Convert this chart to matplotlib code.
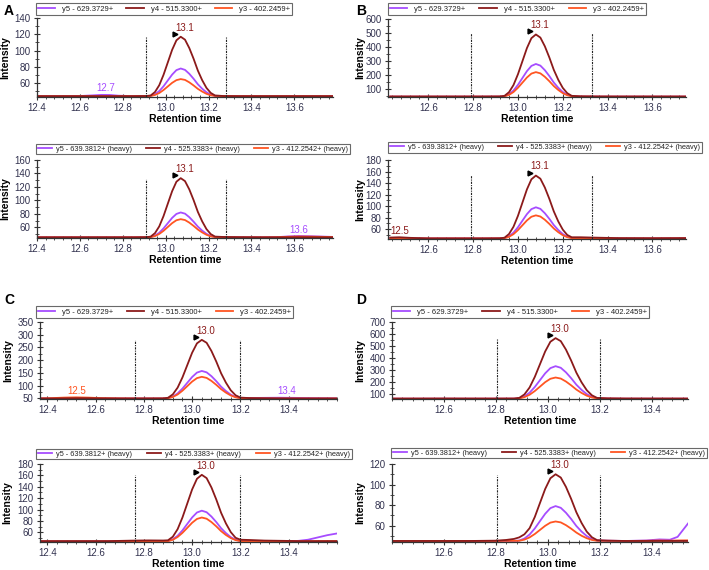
import matplotlib
matplotlib.use('Agg')
import matplotlib.pyplot as plt
from matplotlib.ticker import MultipleLocator
import matplotlib.transforms as mtransforms

plt.rcParams['font.family'] = ['Liberation Sans', 'DejaVu Sans']

# ---------------- data ----------------
labels_light = ['y5 - 629.3729+', 'y4 - 515.3300+', 'y3 - 402.2459+']
labels_heavy = ['y5 - 639.3812+ (heavy)', 'y4 - 525.3383+ (heavy)', 'y3 - 412.2542+ (heavy)']

# Panel A, light
t_A1 = [12.40, 12.50, 12.60, 12.66, 12.70, 12.74, 12.78, 12.85, 12.91,
        12.93, 12.95, 12.97, 12.99, 13.01, 13.03, 13.05, 13.07, 13.09, 13.11, 13.13, 13.15, 13.17, 13.19, 13.21, 13.23,
        13.27, 13.35, 13.50, 13.65, 13.78]
y5_A1 = [44, 44, 44.2, 45, 45.6, 45.5, 44.6, 44.1, 44.1,
         44.4, 46.4, 50.3, 56.2, 63.4, 70.5, 76.0, 78, 76.3, 71.5, 65.4, 58.6, 53.2, 48.8, 45.9, 44.4,
         44, 44, 44, 44, 44]
y4_A1 = [44, 44, 44, 44, 44, 44, 44, 44, 44.2,
         44.9, 49.1, 57.5, 70.3, 85.6, 100.9, 112.6, 117, 113.4, 103.1, 90.0, 75.4, 63.7, 54.2, 48.0, 44.9,
         44.2, 44, 44, 44, 44]
y3_A1 = [44, 44, 44, 44, 44, 44, 44, 44, 44.1,
         44.3, 45.5, 47.9, 51.6, 56.0, 60.4, 63.7, 65, 64.0, 61.0, 57.2, 53.0, 49.7, 46.9, 45.2, 44.3,
         44.1, 44, 44, 44, 44]

# Panel A, heavy
t_A2 = [12.40, 12.50, 12.60, 12.70, 12.80, 12.85, 12.91,
        12.93, 12.95, 12.97, 12.99, 13.01, 13.03, 13.05, 13.07, 13.09, 13.11, 13.13, 13.15, 13.17, 13.19, 13.21, 13.23,
        13.27, 13.35, 13.45, 13.52, 13.57, 13.62, 13.68, 13.78]
y5_A2 = [45, 45, 45, 45, 45, 45, 45.1,
         45.4, 47.6, 51.8, 58.3, 66.1, 73.9, 79.8, 82, 80.2, 75.0, 68.3, 60.9, 55.0, 50.2, 47.0, 45.4,
         45.1, 45, 45, 45.3, 46.3, 47, 46.6, 45.6]
y4_A2 = [45, 45, 45, 45, 45, 45, 45.2,
         46.1, 51.2, 61.3, 76.7, 95.2, 113.6, 127.7, 133, 128.6, 116.3, 100.4, 82.8, 68.8, 57.3, 49.8, 46.1,
         45.5, 45.2, 45, 45, 45, 45.1, 45.1, 45]
y3_A2 = [45, 45, 45, 45, 45, 45, 45.1,
         45.3, 46.9, 50.0, 54.7, 60.4, 66.1, 70.4, 72, 70.7, 66.9, 62.0, 56.6, 52.3, 48.8, 46.5, 45.3,
         45.2, 45, 45, 45.2, 45.8, 46.2, 46.0, 45.4]

# Panel B, light
t_B1 = [12.43, 12.55, 12.65, 12.75, 12.85, 12.92,
        12.94, 12.96, 12.98, 13.00, 13.02, 13.04, 13.06, 13.08, 13.10, 13.12, 13.14, 13.16, 13.18, 13.20, 13.22, 13.24,
        13.28, 13.35, 13.45, 13.60, 13.75]
y5_B1 = [48, 48, 48, 48, 48, 48.3,
         50.8, 64.2, 90.9, 131.5, 180.2, 229.0, 266.1, 280, 268.4, 235.9, 194.2, 147.8, 110.6, 80.5, 60.8, 50.8,
         48.5, 48, 48, 48, 48]
y4_B1 = [48, 48, 48, 48, 48, 48.5,
         53.3, 78.9, 129.8, 207.1, 299.9, 392.8, 463.5, 490, 467.9, 406.0, 326.5, 238.1, 167.3, 109.9, 72.3, 53.3,
         49.5, 48.5, 48, 48, 48]
y3_B1 = [48, 48, 48, 48, 48, 48.3,
         50.1, 60.2, 80.2, 110.6, 147.2, 183.7, 211.6, 222, 213.3, 188.9, 157.6, 122.8, 95.0, 72.4, 57.6, 50.1,
         48.5, 48, 48, 48, 48]

# Panel B, heavy
t_B2 = [12.43, 12.47, 12.52, 12.60, 12.75, 12.85, 12.92,
        12.94, 12.96, 12.98, 13.00, 13.02, 13.04, 13.06, 13.08, 13.10, 13.12, 13.14, 13.16, 13.18, 13.20, 13.22, 13.24,
        13.28, 13.33, 13.45, 13.60, 13.75]
y5_B2 = [44, 44, 44, 44, 44, 44, 44.1,
         44.6, 47.8, 54.0, 63.4, 74.8, 86.1, 94.8, 98, 95.3, 87.7, 78.0, 67.2, 58.6, 51.6, 47.0, 44.6,
         44.2, 44, 44, 44, 44.3]
y4_B2 = [45.5, 46, 45, 44, 44, 44, 44.2,
         45.3, 51.6, 64.2, 83.2, 106.1, 129.0, 146.5, 153, 147.6, 132.3, 112.7, 90.9, 73.4, 59.3, 50.0, 46.0,
         46, 45.5, 44.5, 44.3, 44.5]
y3_B2 = [44, 44, 44, 44, 44, 44, 44.1,
         44.5, 46.8, 51.4, 58.4, 66.8, 75.2, 81.6, 84, 82.0, 76.4, 69.2, 61.2, 54.8, 49.6, 46.2, 44.5,
         44.3, 44.2, 44, 44, 44.2]

# Panel C, light
t_C1 = [12.37, 12.42, 12.47, 12.52, 12.57, 12.62, 12.70, 12.80, 12.88,
        12.90, 12.92, 12.94, 12.96, 12.98, 13.00, 13.02, 13.04, 13.06, 13.08, 13.10, 13.12, 13.14, 13.16, 13.18, 13.20,
        13.24, 13.30, 13.36, 13.42, 13.50, 13.60]
y5_C1 = [50, 50, 50, 50, 50, 50, 50, 50, 50.1,
         51.3, 57.6, 70.0, 88.9, 111.6, 134.2, 151.5, 158, 152.6, 137.5, 118.0, 96.4, 79.2, 65.1, 55.9, 52.0,
         52, 52.5, 53, 52.5, 51.5, 50.5]
y4_C1 = [50, 50, 50.5, 51, 51, 50.5, 50, 50, 50.2,
         52.8, 66.1, 92.6, 132.8, 181.1, 229.4, 266.2, 280, 268.5, 236.3, 194.9, 148.9, 112.1, 82.2, 62.7, 53.5,
         51.5, 50.8, 50.3, 50, 50, 50]
y3_C1 = [50.3, 51.5, 53.5, 54.5, 53.5, 51.5, 50.5, 50, 50.2,
         51.0, 56.0, 65.7, 80.6, 98.5, 116.3, 129.9, 135, 130.8, 118.9, 103.6, 86.6, 73.0, 61.9, 54.7, 51.0,
         50.5, 50.2, 50, 50, 50, 50]

# Panel C, heavy
t_C2 = [12.37, 12.50, 12.65, 12.76, 12.82, 12.88,
        12.90, 12.92, 12.94, 12.96, 12.98, 13.00, 13.02, 13.04, 13.06, 13.08, 13.10, 13.12, 13.14, 13.16, 13.18, 13.20,
        13.24, 13.30, 13.38, 13.44, 13.48, 13.52, 13.56, 13.60]
y5_C2 = [44.2, 44.2, 44.2, 44.2, 44.2, 44.3,
         44.6, 47.8, 54.0, 63.4, 74.8, 86.1, 94.8, 98, 95.3, 87.7, 78.0, 67.2, 58.6, 51.6, 47.0, 44.8,
         44.5, 44.2, 44.2, 45, 47, 51, 55, 58]
y4_C2 = [44.5, 44.5, 44.5, 45.5, 45.8, 45.6,
         46.0, 52.2, 65.6, 86.1, 110.7, 135.3, 154.0, 161, 155.2, 138.8, 117.7, 94.3, 75.6, 60.4, 50.4, 47.0,
         46.5, 45.5, 45, 44.5, 44.5, 44.5, 44.5, 44.5]
y3_C2 = [44.2, 44.2, 44.2, 44.2, 44.2, 44.3,
         44.5, 46.9, 51.8, 59.1, 67.9, 76.8, 83.5, 86, 83.9, 78.0, 70.5, 62.1, 55.3, 49.9, 46.3, 44.6,
         44.3, 44.2, 44.2, 44.3, 44.4, 44.5, 44.5, 44.5]

# Panel D, light
t_D1 = [12.40, 12.50, 12.60, 12.70, 12.80, 12.87,
        12.89, 12.91, 12.93, 12.95, 12.97, 12.99, 13.01, 13.03, 13.05, 13.07, 13.09, 13.11, 13.13, 13.15, 13.17, 13.19,
        13.23, 13.30, 13.40, 13.54]
y5_D1 = [58, 58, 58, 58, 58, 58.3,
         61.3, 77.0, 108.3, 155.9, 213.0, 270.2, 313.7, 330, 316.4, 278.3, 229.4, 175.0, 131.4, 96.1, 73.0, 61.3,
         59, 58, 58, 58]
y4_D1 = [58, 58, 58.5, 58, 58, 58.5,
         64.1, 93.5, 151.8, 240.5, 347.0, 453.5, 534.6, 565, 539.7, 468.7, 377.4, 276.0, 194.9, 129.0, 85.9, 64.1,
         60, 58.5, 58, 58]
y3_D1 = [58, 58, 58, 58, 58, 58.2,
         60.1, 70.4, 90.7, 121.7, 158.9, 196.1, 224.4, 235, 226.2, 201.4, 169.5, 134.1, 105.8, 82.8, 67.7, 60.1,
         58.8, 58, 58, 58]

# Panel D, heavy
t_D2 = [12.40, 12.55, 12.70, 12.80, 12.84, 12.87,
        12.89, 12.91, 12.93, 12.95, 12.97, 12.99, 13.01, 13.03, 13.05, 13.07, 13.09, 13.11, 13.13, 13.15, 13.17, 13.19,
        13.23, 13.30, 13.38, 13.43, 13.47, 13.50, 13.54]
y5_D2 = [45, 45, 45, 45, 45, 45.1,
         45.4, 47.4, 51.3, 57.2, 64.4, 71.5, 77.0, 79, 77.3, 72.5, 66.4, 59.6, 54.2, 49.8, 46.9, 45.4,
         45.3, 45, 45.5, 46.5, 46.2, 49, 62]
y4_D2 = [45, 45, 45, 45.3, 46.0, 47.0,
         48.5, 51.5, 57.5, 68.4, 82.1, 95.7, 106.1, 110, 106.8, 97.7, 86.0, 73.0, 62.6, 54.1, 48.6, 45.8,
         45.3, 45, 45, 45, 45, 45, 45]
y3_D2 = [45, 45, 45, 45, 45.1, 45.1,
         45.2, 46.3, 48.5, 51.8, 55.8, 59.8, 62.9, 64, 63.1, 60.4, 57.0, 53.2, 50.1, 47.7, 46.0, 45.2,
         45.2, 45, 45.2, 45.5, 45.3, 45.5, 45.6]

# integration boundaries (retention time)
bounds_A = [12.91, 13.28]
bounds_B = [12.79, 13.33]
bounds_C = [12.765, 13.20]
bounds_D = [12.805, 13.20]

# ---------------- style ----------------
C5 = '#a64dff'
C4 = '#8b1a1a'
C3 = '#ff5522'
TICKC = '#333350'

W, H = 709, 570
fig = plt.figure(figsize=(W / 100, H / 100), dpi=100)


def make_panel(box, legbox, t, y5, y4, y3, labels, xlim, ylim, xmaj, ymaj, ymin_step,
               bounds, vfrac, ylab_x, extra=(), heavy=False):
    l, r, tp, b = box
    ax = fig.add_axes([l / W, 1 - b / H, (r - l) / W, (b - tp) / H])
    h5, = ax.plot(t, y5, color=C5, lw=1.3)
    h3, = ax.plot(t, y3, color=C3, lw=1.3)
    h4, = ax.plot(t, y4, color=C4, lw=1.3)
    for xb in bounds:
        ax.axvline(xb, ymin=0, ymax=vfrac, color='#222222', lw=0.8, ls=(0, (2, 1, 1, 1)))
    ax.set_xlim(*xlim)
    ax.set_ylim(*ylim)
    ax.set_xticks(xmaj)
    ax.set_xticklabels(['%.1f' % v for v in xmaj])
    ax.set_yticks(ymaj)
    ax.set_yticklabels(['%d' % v for v in ymaj])
    ax.xaxis.set_minor_locator(MultipleLocator(0.04))
    ax.yaxis.set_minor_locator(MultipleLocator(ymin_step))
    ax.tick_params(axis='both', which='major', direction='inout', length=4, width=0.8,
                   labelsize=7, labelcolor=TICKC, pad=2.5, color='#333333')
    ax.tick_params(axis='both', which='minor', direction='inout', length=3, width=0.6, color='#333333')
    for s in ('top', 'right'):
        ax.spines[s].set_visible(False)
    for s in ('left', 'bottom'):
        ax.spines[s].set_color('#333333')
        ax.spines[s].set_linewidth(0.9)
    ax.set_xlabel('Retention time', fontsize=7.5, fontweight='bold')
    ax.xaxis.set_label_coords(((l + r) / 2) / W, 1 - (b + 17) / H, transform=fig.transFigure)
    ax.set_ylabel('Intensity', fontsize=7.5, fontweight='bold')
    ax.yaxis.set_label_coords(ylab_x / W, 1 - ((tp + b) / 2) / H, transform=fig.transFigure)
    # apex annotation of y4
    i = max(range(len(y4)), key=lambda k: y4[k])
    ax.annotate('%.1f' % t[i], xy=(t[i], y4[i]), xytext=(3, 3), textcoords='offset points',
                ha='center', va='bottom', fontsize=7, color=C4)
    tr = mtransforms.offset_copy(ax.transData, fig=fig, x=-6, y=3, units='dots')
    ax.plot([t[i]], [y4[i]], marker='>', color='black', ms=3.5, transform=tr, clip_on=False)
    # minor peak labels
    for (txt, xi, yi, col) in extra:
        ax.annotate(txt, xy=(xi, yi), xytext=(0, 1), textcoords='offset points',
                    ha='center', va='bottom', fontsize=7, color=col)
    # legend box
    ll, lr, lt, lb = legbox
    leg = ax.legend([h5, h4, h3], labels, loc='center', ncol=3, mode='expand',
                    bbox_to_anchor=(ll / W, 1 - lb / H, (lr - ll) / W, (lb - lt) / H),
                    bbox_transform=fig.transFigure, fontsize=5.3 if heavy else 5.5,
                    frameon=True, fancybox=False, borderpad=0.25,
                    handlelength=1.9 if heavy else 2.3,
                    handletextpad=0.6 if heavy else 0.9, columnspacing=0.5,
                    borderaxespad=0)
    leg.get_frame().set_edgecolor('#444444')
    leg.get_frame().set_linewidth(0.8)
    for txt in leg.get_texts():
        txt.set_color('#222222')
    return ax


xt_A = [12.4, 12.6, 12.8, 13.0, 13.2, 13.4, 13.6]
xt_B = [12.6, 12.8, 13.0, 13.2, 13.4, 13.6]
xt_C = [12.4, 12.6, 12.8, 13.0, 13.2, 13.4]
xt_D = [12.6, 12.8, 13.0, 13.2, 13.4]

make_panel((37, 333, 18, 97), (36, 292, 3, 15), t_A1, y5_A1, y4_A1, y3_A1, labels_light,
           (12.4, 13.78), (43, 140), xt_A, [60, 80, 100, 120, 140], 10, bounds_A, 0.76, 10,
           extra=[('12.7', 12.72, 45.6, C5)])
make_panel((37, 333, 160, 238), (36, 350, 143, 155), t_A2, y5_A2, y4_A2, y3_A2, labels_heavy,
           (12.4, 13.78), (44, 160), xt_A, [60, 80, 100, 120, 140, 160], 10, bounds_A, 0.76, 10,
           extra=[('13.6', 13.62, 47, C5)], heavy=True)
make_panel((388, 686, 19, 97), (388, 646, 3, 15), t_B1, y5_B1, y4_B1, y3_B1, labels_light,
           (12.42, 13.75), (45, 600), xt_B, [100, 200, 300, 400, 500, 600], 50, bounds_B, 0.82, 365)
make_panel((388, 686, 160, 239), (388, 702, 142, 153), t_B2, y5_B2, y4_B2, y3_B2, labels_heavy,
           (12.42, 13.75), (43, 180), xt_B, [60, 80, 100, 120, 140, 160, 180], 10, bounds_B, 0.81, 365,
           extra=[('12.5', 12.47, 46, C4)], heavy=True)
make_panel((40, 337, 322, 399), (36, 293, 306, 318), t_C1, y5_C1, y4_C1, y3_C1, labels_light,
           (12.37, 13.6), (48, 350), xt_C, [50, 100, 150, 200, 250, 300, 350], 25, bounds_C, 0.77, 13,
           extra=[('12.5', 12.52, 54.5, C3), ('13.4', 13.39, 52.5, C5)])
make_panel((40, 337, 464, 542), (36, 352, 448, 460), t_C2, y5_C2, y4_C2, y3_C2, labels_heavy,
           (12.37, 13.6), (43, 180), xt_C, [60, 80, 100, 120, 140, 160, 180], 10, bounds_C, 0.86, 12,
           heavy=True)
make_panel((392, 688, 322, 399), (391, 649, 306, 318), t_D1, y5_D1, y4_D1, y3_D1, labels_light,
           (12.40, 13.54), (55, 700), xt_D, [100, 200, 300, 400, 500, 600, 700], 50, bounds_D, 0.79, 365)
make_panel((392, 688, 464, 542), (391, 707, 447, 459), t_D2, y5_D2, y4_D2, y3_D2, labels_heavy,
           (12.40, 13.54), (44, 120), xt_D, [60, 80, 100, 120], 10, bounds_D, 0.86, 365,
           heavy=True)

for letter, x, y in [('A', 4, 4), ('B', 356, 4), ('C', 4, 293), ('D', 356, 293)]:
    fig.text(x / W, 1 - y / H, letter, fontsize=10, fontweight='bold', va='top', ha='left')

fig.savefig('out.png', dpi=100)
